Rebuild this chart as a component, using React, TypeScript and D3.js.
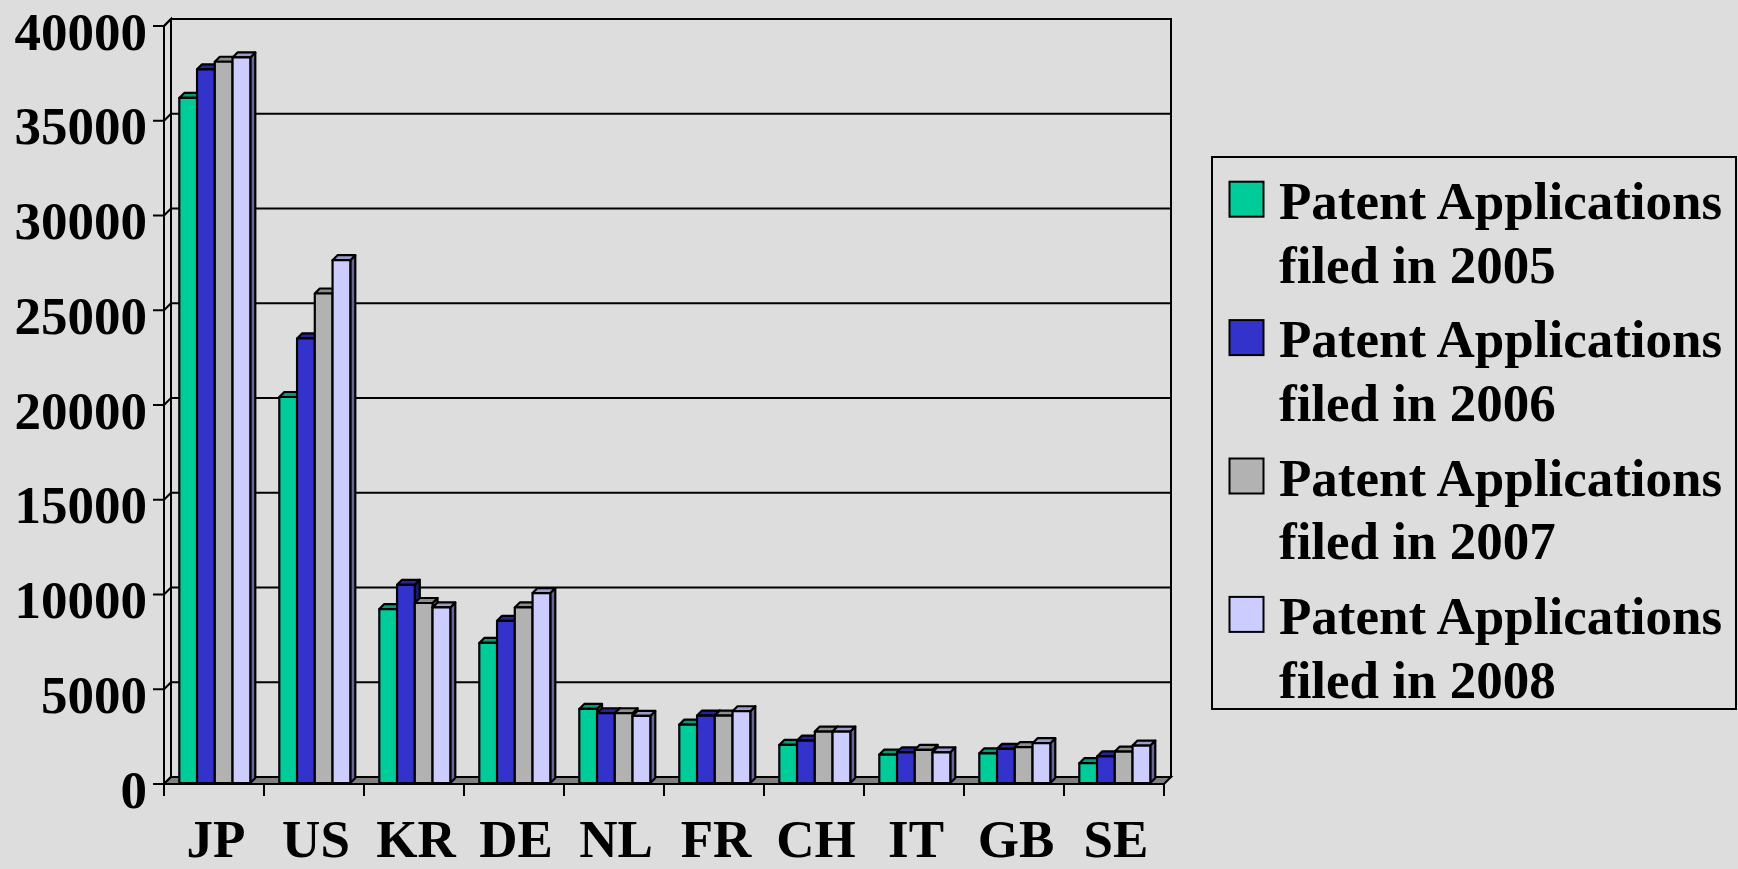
import React, { useEffect } from "react";
import * as d3 from "d3";

const categories = ["JP", "US", "KR", "DE", "NL", "FR", "CH", "IT", "GB", "SE"];
const seriesNames = [
  "Patent Applications filed in 2005",
  "Patent Applications filed in 2006",
  "Patent Applications filed in 2007",
  "Patent Applications filed in 2008",
];
const legendLine1 = "Patent Applications";
const legendLine2 = ["filed in 2005", "filed in 2006", "filed in 2007", "filed in 2008"];
const values2005 = [36150, 20370, 9180, 7390, 3910, 3080, 2010, 1500, 1565, 1045];
const values2006 = [37660, 23460, 10460, 8560, 3680, 3560, 2240, 1620, 1800, 1400];
const values2007 = [38060, 25830, 9500, 9265, 3680, 3560, 2715, 1750, 1890, 1660];
const values2008 = [38290, 27590, 9265, 10025, 3540, 3785, 2715, 1620, 2100, 1975];
const yTicks = [0, 5000, 10000, 15000, 20000, 25000, 30000, 35000, 40000];

const seriesValues = [values2005, values2006, values2007, values2008];
const frontColors = ["#00CC99", "#3333CC", "#B2B2B2", "#CCCCFF"];
const topColors = ["#009E77", "#25259B", "#8E8E8E", "#9C9CCC"];
const sideColors = ["#00785A", "#1A1A6A", "#666666", "#666690"];

const W = 1738;
const H = 869;
const BG = "#DDDDDD";
const FONT = "'Liberation Serif', 'Times New Roman', serif";

export default function App() {
  useEffect(() => {
    document.body.style.margin = "0";
    document.body.style.background = BG;
  }, []);

  const x0 = 164;
  const x1 = 1164;
  const depth = 7;
  const barDepth = 5;
  const barShift = 1;

  const x = d3.scaleBand<string>().domain(categories).range([x0, x1]).padding(0);
  const inner = d3
    .scaleBand<number>()
    .domain([0, 1, 2, 3])
    .range([14.3, 14.3 + 71])
    .padding(0);
  const y = d3.scaleLinear().domain([0, 40000]).range([784, 26]);

  const bars: React.ReactNode[] = [];
  categories.forEach((c, i) => {
    seriesValues.forEach((vals, j) => {
      const v = vals[i];
      const bx = (x(c) as number) + (inner(j) as number) + barShift;
      const w = inner.bandwidth();
      const yt = y(v) - barShift;
      const yb = y(0) - barShift;
      const d = barDepth;
      bars.push(
        <g key={`${c}-${j}`} stroke="#000" strokeWidth={2.2} strokeLinejoin="round">
          <polygon
            points={`${bx + w},${yt} ${bx + w + d},${yt - d} ${bx + w + d},${yb - d} ${bx + w},${yb}`}
            fill={sideColors[j]}
          />
          <polygon
            points={`${bx},${yt} ${bx + w},${yt} ${bx + w + d},${yt - d} ${bx + d},${yt - d}`}
            fill={topColors[j]}
          />
          <rect x={bx} y={yt} width={w} height={yb - yt} fill={frontColors[j]} />
        </g>
      );
    });
  });

  const legX = 1212;
  const legY = 157;
  const legW = 524;
  const legH = 552;

  return (
    <svg
      width={W}
      height={H}
      viewBox={`0 0 ${W} ${H}`}
      style={{ position: "absolute", left: 0, top: 0, display: "block", background: BG }}
    >
      <rect x={0} y={0} width={W} height={H} fill={BG} />
      {/* back wall */}
      <rect
        x={x0 + depth}
        y={y(40000) - depth}
        width={x1 - x0}
        height={y(0) - y(40000)}
        fill={BG}
        stroke="#000"
        strokeWidth={2}
      />
      {/* left side wall */}
      <polygon
        points={`${x0},${y(40000)} ${x0 + depth},${y(40000) - depth} ${x0 + depth},${y(0) - depth} ${x0},${y(0)}`}
        fill={BG}
        stroke="#000"
        strokeWidth={2}
      />
      {/* gridlines */}
      {yTicks.map((t) => (
        <g key={`g${t}`} stroke="#000" strokeWidth={2}>
          <line x1={x0 + depth} x2={x1 + depth} y1={y(t) - depth} y2={y(t) - depth} />
          <line x1={x0} x2={x0 + depth} y1={y(t)} y2={y(t) - depth} />
        </g>
      ))}
      {/* floor */}
      <polygon
        points={`${x0},${y(0)} ${x1},${y(0)} ${x1 + depth},${y(0) - depth} ${x0 + depth},${y(0) - depth}`}
        fill="#808080"
        stroke="#000"
        strokeWidth={2}
      />
      {bars}
      {/* axes */}
      <line x1={x0} x2={x0} y1={y(40000)} y2={y(0)} stroke="#000" strokeWidth={2} />
      <line x1={x0} x2={x1} y1={y(0)} y2={y(0)} stroke="#000" strokeWidth={2} />
      {yTicks.map((t) => (
        <g key={`t${t}`}>
          <line x1={x0 - 11} x2={x0} y1={y(t)} y2={y(t)} stroke="#000" strokeWidth={2} />
          <text
            x={147}
            y={y(t) + 23.5}
            textAnchor="end"
            fontFamily={FONT}
            fontWeight="bold"
            fontSize={53}
            fill="#000"
          >
            {t}
          </text>
        </g>
      ))}
      {categories.map((c) => (
        <line
          key={`xt${c}`}
          x1={x(c) as number}
          x2={x(c) as number}
          y1={y(0)}
          y2={y(0) + 12}
          stroke="#000"
          strokeWidth={2}
        />
      ))}
      <line x1={x1} x2={x1} y1={y(0)} y2={y(0) + 12} stroke="#000" strokeWidth={2} />
      {categories.map((c) => (
        <text
          key={`xl${c}`}
          x={(x(c) as number) + x.bandwidth() / 2 + 2}
          y={857}
          textAnchor="middle"
          fontFamily={FONT}
          fontWeight="bold"
          fontSize={53}
          fill="#000"
        >
          {c}
        </text>
      ))}
      {/* legend */}
      <rect x={legX} y={legY} width={legW} height={legH} fill={BG} stroke="#000" strokeWidth={2} />
      {seriesNames.map((s, j) => {
        const sy = 181.7 + j * 138.4;
        return (
          <g key={s}>
            <rect x={1229.5} y={sy} width={34} height={35} fill={frontColors[j]} stroke="#000" strokeWidth={2} />
            <text x={1279} y={sy + 37.3} fontFamily={FONT} fontWeight="bold" fontSize={53} fill="#000">
              {legendLine1}
            </text>
            <text x={1279} y={sy + 100.8} fontFamily={FONT} fontWeight="bold" fontSize={53} fill="#000">
              {legendLine2[j]}
            </text>
          </g>
        );
      })}
    </svg>
  );
}
